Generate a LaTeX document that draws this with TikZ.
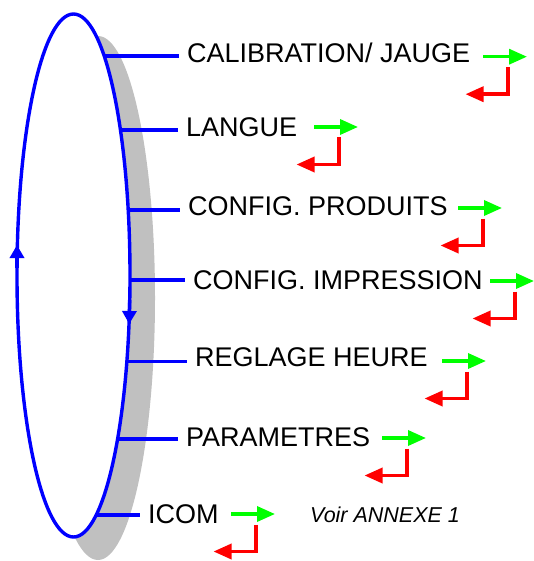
\documentclass[tikz,border=0pt]{standalone}
\usepackage{fontspec}
\setmainfont{Liberation Sans}
\usetikzlibrary{arrows.meta,calc}
\definecolor{shadowgray}{RGB}{192,192,192}
\definecolor{pureblue}{RGB}{0,0,255}
\definecolor{puregreen}{RGB}{0,255,0}
\definecolor{purered}{RGB}{255,0,0}
\begin{document}
\begin{tikzpicture}[x=1pt,y=-1pt,
  lbl/.style={anchor=base west, inner xsep=8pt, inner ysep=0pt, font=\fontsize{27}{31}\selectfont},
  note/.style={anchor=base west, inner sep=0pt, font=\fontsize{21.5}{25}\selectfont\itshape},
  blueline/.style={draw=pureblue, line width=3.4pt},
  ringarrow/.style={draw=pureblue, fill=pureblue, line width=3.4pt, -{Triangle[length=13pt,width=14pt]}},
  garrow/.style={draw=puregreen, line width=3.4pt, -{Triangle[length=18pt,width=15pt]}},
  rarrow/.style={draw=purered, line width=3.4pt, line join=miter, -{Triangle[length=18pt,width=15pt]}}
]
\useasboundingbox (0,0) rectangle (534,561);
% shadow and ring
\fill[shadowgray] (98,298) ellipse [x radius=57, y radius=262];
\draw[blueline, fill=white] (73.5,275.5) ellipse [x radius=56.5, y radius=261.5];
\draw[ringarrow] (17,268) -- (17,245);
\draw[ringarrow] (129.6,300) -- (129.2,324);
% points on the ring
\coordinate (e1) at (104.2,56);
\coordinate (e2) at (120.4,130);
\coordinate (e3) at (128.2,210);
\coordinate (e4) at (130,280);
\coordinate (e5) at (126.8,361.7);
\coordinate (e6) at (117.6,439);
\coordinate (e7) at (96.2,515);
% labels
\node[lbl] (t1) at (179,63) {CALIBRATION/ JAUGE};
\node[lbl] (t2) at (178,137) {LANGUE};
\node[lbl] (t3) at (180,215) {CONFIG. PRODUITS};
\node[lbl] (t4) at (185,289) {CONFIG. IMPRESSION};
\node[lbl] (t5) at (187,366) {REGLAGE HEURE};
\node[lbl] (t6) at (178,446) {PARAMETRES};
\node[lbl] (t7) at (140,523) {ICOM};
\node[note] (n1) at (310,522) {Voir ANNEXE 1};
% blue connectors
\foreach \i in {1,...,7} {
  \draw[blueline] (e\i) -- (e\i -| t\i.west);
}
% green/red arrow pairs
\coordinate (g1) at (483,56.7);
\coordinate (g2) at (314,127);
\coordinate (g3) at (458,208);
\coordinate (g4) at (490,281);
\coordinate (g5) at (442,361);
\coordinate (g6) at (382,438);
\coordinate (g7) at (231,514);
\foreach \i in {1,...,7} {
  \draw[garrow] (g\i) -- ($(g\i)+(44,0)$);
  \draw[rarrow] ($(g\i)+(25,10.5)$) -- ($(g\i)+(25,37.5)$) -- ($(g\i)+(-17.5,37.5)$);
}
\end{tikzpicture}
\end{document}
